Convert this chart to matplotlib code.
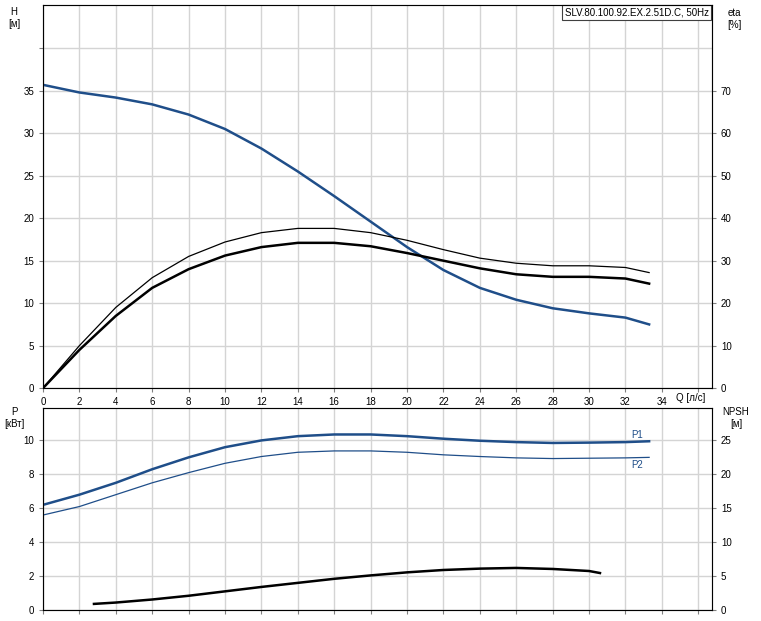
import numpy as np
import matplotlib.pyplot as plt

# Q-H and efficiency curves
q = [0, 2, 4, 6, 8, 10, 12, 14, 16, 18, 20, 22, 24, 26, 28, 30, 32, 33.3]
head = [35.7, 34.8, 34.2, 33.4, 32.2, 30.5, 28.2, 25.5, 22.6, 19.6, 16.6, 13.9, 11.8, 10.4, 9.4, 8.8, 8.3, 7.5]
eta_total = [0, 9, 17, 23.6, 28, 31.2, 33.2, 34.2, 34.2, 33.4, 31.8, 30, 28.2, 26.8, 26.2, 26.2, 25.8, 24.6]
eta_pump = [0, 10, 19, 26, 31, 34.4, 36.6, 37.6, 37.6, 36.6, 34.8, 32.6, 30.6, 29.4, 28.8, 28.8, 28.4, 27.2]

# power curves
p1 = [6.2, 6.8, 7.5, 8.3, 9.0, 9.6, 10.0, 10.25, 10.35, 10.35, 10.25, 10.1, 9.98, 9.9, 9.85, 9.87, 9.9, 9.95]
p2 = [5.6, 6.1, 6.8, 7.5, 8.1, 8.65, 9.05, 9.3, 9.38, 9.38, 9.3, 9.15, 9.05, 8.97, 8.93, 8.95, 8.97, 9.0]

# NPSH
q_npsh = [2.8, 4, 6, 8, 10, 12, 14, 16, 18, 20, 22, 24, 26, 28, 30, 30.6]
npsh = [0.9, 1.1, 1.55, 2.1, 2.75, 3.4, 4.0, 4.6, 5.1, 5.55, 5.9, 6.1, 6.2, 6.05, 5.75, 5.45]

blue = '#1f4e89'
grid_c = '#d4d4d4'
plt.rcParams['font.size'] = 7
plt.rcParams['font.family'] = ['Liberation Sans', 'DejaVu Sans']

fig = plt.figure(figsize=(7.61, 6.21), dpi=100)
ax1 = fig.add_axes([0.0565, 0.375, 0.879, 0.617])
ax2 = fig.add_axes([0.0565, 0.0177, 0.879, 0.325])

xmax = 36.75
for ax in (ax1, ax2):
    ax.set_xlim(0, xmax)
    ax.set_xticks(np.arange(0, 37, 2))
    ax.grid(True, color=grid_c, linewidth=1)
    ax.set_axisbelow(True)
    for s in ax.spines.values():
        s.set_color('#808080')
    ax.tick_params(colors='#808080', labelcolor='black', length=3)

ax1.set_ylim(0, 45.1)
ax1.set_yticks(np.arange(0, 45, 5))
ax1.set_yticklabels([str(v) for v in range(0, 40, 5)] + [''])
ax1.set_xticklabels([str(v) for v in range(0, 36, 2)] + [''])
ax1.plot(q, head, color=blue, lw=1.8)
ax1e = ax1.twinx()
ax1e.set_ylim(0, 90.2)
ax1e.set_yticks(np.arange(0, 80, 10))
ax1e.tick_params(colors='#808080', labelcolor='black', length=3)
ax1e.plot(q, eta_total, color='black', lw=1.8)
ax1e.plot(q, eta_pump, color='black', lw=0.9)

ax1.text(0.995, 0.993, 'SLV.80.100.92.EX.2.51D.C, 50Hz', transform=ax1.transAxes,
         ha='right', va='top', fontsize=7,
         bbox=dict(facecolor='white', edgecolor='#404040', boxstyle='square,pad=0.25', lw=0.8))

ax2.set_ylim(0, 11.9)
ax2.set_yticks(np.arange(0, 11, 2))
ax2.set_xticklabels([])
ax2.plot(q, p1, color=blue, lw=1.8)
ax2.plot(q, p2, color=blue, lw=0.9)
ax2.text(32.3, 10.05, 'P1', color=blue, fontsize=7, va='bottom')
ax2.text(32.3, 8.85, 'P2', color=blue, fontsize=7, va='top')
ax2n = ax2.twinx()
ax2n.set_ylim(0, 29.75)
ax2n.set_yticks(np.arange(0, 30, 5))
ax2n.tick_params(colors='#808080', labelcolor='black', length=3)
ax2n.plot(q_npsh, npsh, color='black', lw=1.8)

fig.text(14 / 761, 1 - 18 / 621, 'H\n[м]', ha='center', va='center', fontsize=7)
fig.text(734 / 761, 1 - 19 / 621, 'eta\n[%]', ha='center', va='center', fontsize=7)
fig.text(14 / 761, 1 - 418 / 621, 'P\n[кВт]', ha='center', va='center', fontsize=7)
fig.text(736 / 761, 1 - 418 / 621, 'NPSH\n[м]', ha='center', va='center', fontsize=7)
fig.text(676 / 761, 1 - 398 / 621, 'Q [л/с]', ha='left', va='center', fontsize=7)

fig.savefig('out.png', dpi=100)
